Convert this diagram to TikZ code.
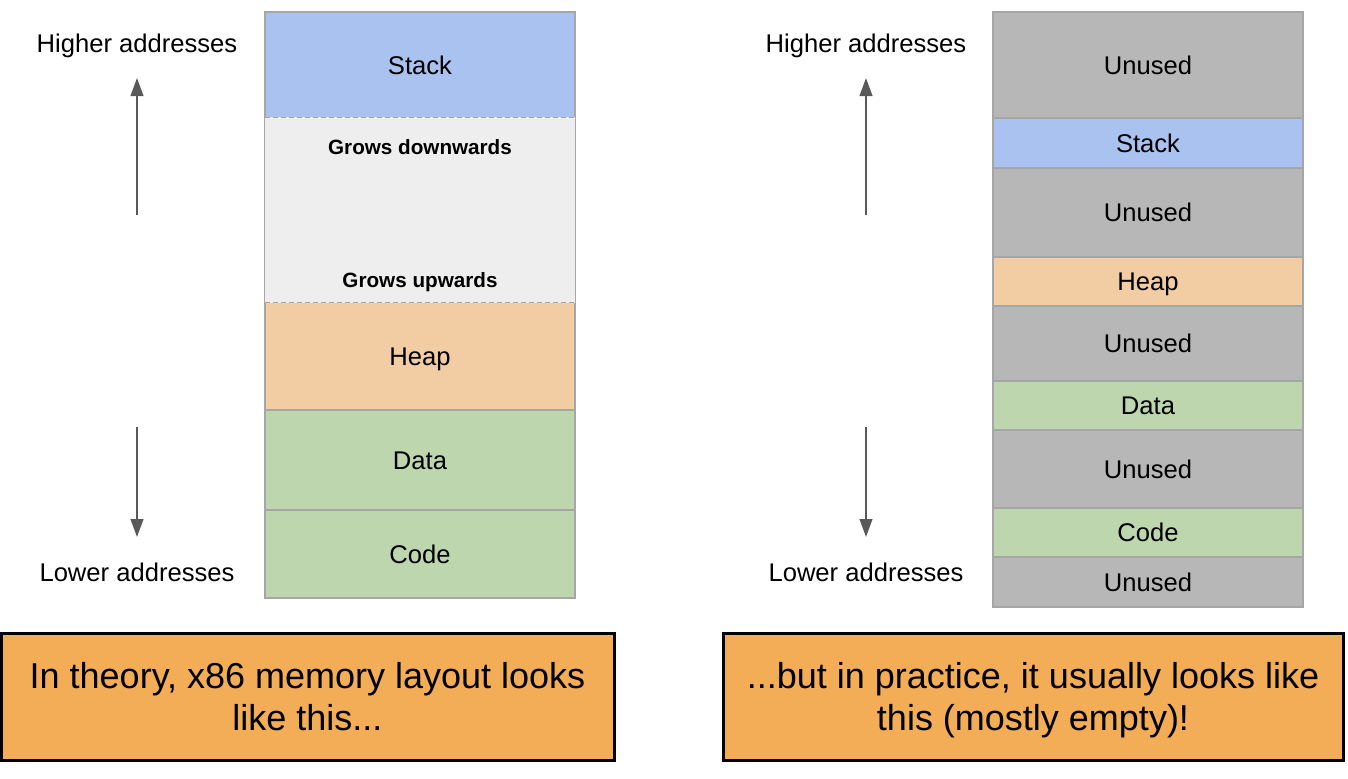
\documentclass[tikz,border=0pt]{standalone}
\usepackage{fontspec}
\setmainfont{Liberation Sans}
\usepackage{tikz}
\usetikzlibrary{arrows.meta, positioning}
\usepackage{xcolor}
\definecolor{stackblue}{RGB}{169,194,239}
\definecolor{heaporange}{RGB}{242,204,162}
\definecolor{segreen}{RGB}{189,214,174}
\definecolor{unusedgrey}{RGB}{183,183,183}
\definecolor{growgrey}{RGB}{238,238,238}
\definecolor{edgegrey}{RGB}{166,166,166}
\definecolor{noteorange}{RGB}{243,173,87}
\definecolor{arrowgrey}{RGB}{89,89,89}

\begin{document}
\begin{tikzpicture}[
        			x=0.75pt, y=-0.75pt,
        			segment/.style={draw=edgegrey, line width=1.1pt, minimum width=232.5pt, inner sep=0pt, text height=13.75pt, text depth=0pt, font=\fontsize{19.2}{23}\selectfont},
        			growtext/.style={inner sep=0pt, text height=11.1pt, text depth=0pt, font=\fontsize{15.5}{18}\selectfont\bfseries},
        			addr/.style={inner sep=0pt, text height=13.75pt, text depth=0pt, font=\fontsize{19.2}{23}\selectfont},
        			addrarrow/.style={draw=arrowgrey, line width=1.5pt, -{Triangle[length=13.5pt, width=9.5pt]}},
        			note/.style={draw=black, fill=noteorange, line width=2.25pt, inner sep=0pt, align=center, text depth=0pt, font=\fontsize{27}{31.5}\selectfont}
        			]
\useasboundingbox (0,0) rectangle (1348,778);

        			%% Theory column
        			\foreach \name/\ya/\yb/\col/\txt in {stack/12/118/stackblue/Stack, heap/302/410/heaporange/Heap, data/410/510/segreen/Data, code/510/598/segreen/Code} {
        			    \node[segment, fill=\col, minimum height={(\yb-\ya)*0.75pt}] (\name) at (420, {(\ya+\yb)/2}) {\txt};
        			}
        			\node[fill=growgrey, minimum width=232.5pt, minimum height=139.5pt, inner sep=0pt] (grow) at (420,210) {};
        			\draw[edgegrey, line width=1.1pt] (grow.north west) -- (grow.south west) (grow.north east) -- (grow.south east);
        			\draw[edgegrey, line width=1.1pt, dash pattern=on 4pt off 2pt] ([yshift=-0.75pt]grow.north west) -- ([yshift=-0.75pt]grow.north east)
        			    ([yshift=0.75pt]grow.south west) -- ([yshift=0.75pt]grow.south east);
        			\node[growtext] (growdown) at (420,147) {Grows downwards};
        			\node[growtext] (growup) at (420,280.5) {Grows upwards};

        			%% Practice column
        			\foreach \name/\ya/\yb/\col/\txt in {unusedA/12/118/unusedgrey/Unused, rstack/118/168/stackblue/Stack, unusedB/168/257/unusedgrey/Unused, rheap/257/306/heaporange/Heap, unusedC/306/381/unusedgrey/Unused, rdata/381/430/segreen/Data, unusedD/430/508/unusedgrey/Unused, rcode/508/557/segreen/Code, unusedE/557/607/unusedgrey/Unused} {
        			    \node[segment, fill=\col, minimum height={(\yb-\ya)*0.75pt}] (\name) at (1148, {(\ya+\yb)/2}) {\txt};
        			}

% Address labels and arrows
        			\foreach \side/\x in {L/137, R/866} {
        			    \node[addr] (high\side) at (\x,43.5) {Higher addresses};
        			    \node[addr] (low\side) at (\x,572) {Lower addresses};
        			    \coordinate (upfrom\side) at (\x,215);
        			    \coordinate (upto\side) at (\x,78);
        			    \coordinate (downfrom\side) at (\x,427);
        			    \coordinate (downto\side) at (\x,537);
        			    \draw[addrarrow] (upfrom\side) -- (upto\side);
        			    \draw[addrarrow] (downfrom\side) -- (downto\side);
        			}

                %% Captions
                \node[note, minimum width=459.75pt, minimum height=95.25pt] (theory) at (307.5,696.5) {In theory, x86 memory layout looks\\like this...};
                \node[note, minimum width=465pt, minimum height=95.25pt] (practice) at (1033,696.5) {...but in practice, it usually looks like\\this (mostly empty)!};
\end{tikzpicture}
\end{document}
